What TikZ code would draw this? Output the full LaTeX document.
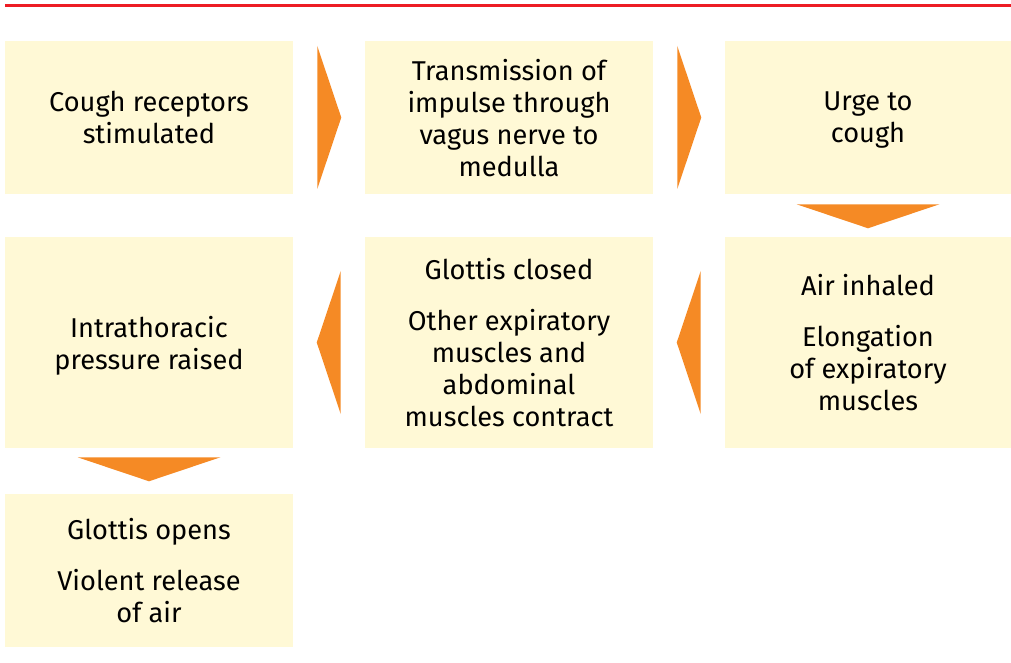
\documentclass[tikz,border=0pt]{standalone}
\usepackage{fontspec}
\setmainfont{Fira Sans}
\usepackage{tikz}
\usetikzlibrary{calc}
\definecolor{boxfill}{HTML}{FFF9D6}
\definecolor{arrorange}{HTML}{F58A25}
\definecolor{rulered}{HTML}{ED1C24}

\begin{document}
\begin{tikzpicture}[x=0.75pt, y=-0.75pt,
  box/.style={fill=boxfill, minimum width=216pt, minimum height=114.75pt,
    align=center, inner sep=0pt, text depth=0pt, font=\fontsize{20.4}{24}\selectfont},
  tallbox/.style={box, minimum height=158.25pt},
  arr/.style={fill=arrorange}]
\useasboundingbox (0,0) rectangle (1011,663);
\draw[rulered, line width=1.9pt] (5,5.3) -- (1011,5.3);

% Row 1
\node[box] (receptors) at (149,117.5) {Cough receptors\\stimulated};
\node[box] (vagus) at (509,117.5) {Transmission of\\impulse through\\vagus nerve to\\medulla};
\node[box, minimum width=214.5pt] (urge) at (868,117.5) {Urge to\\cough};

% Row 2
\node[tallbox] (pressure) at (149,342.5) {Intrathoracic\\pressure raised};
\node[tallbox] (closed) at (509,342.5) {Glottis closed\\[14pt]Other expiratory\\muscles and\\abdominal\\muscles contract};
\node[tallbox, minimum width=214.5pt] (inhaled) at (868,342.5) {Air inhaled\\[14pt]Elongation\\of expiratory\\muscles};

% Row 3
\node[box] (opens) at (149,570.5) {Glottis opens\\[14pt]Violent release\\of air};

% Arrows
\fill[arr] ($(receptors.east)+(24,-71.5)$) -- ($(receptors.east)+(48,0)$) -- ($(receptors.east)+(24,71.5)$) -- cycle;
\fill[arr] ($(vagus.east)+(24,-71.5)$) -- ($(vagus.east)+(48,0)$) -- ($(vagus.east)+(24,71.5)$) -- cycle;
\fill[arr] ($(urge.south)+(-71.5,10)$) -- ($(urge.south)+(71.5,10)$) -- ($(urge.south)+(0,34)$) -- cycle;
\fill[arr] ($(inhaled.west)+(-24,-71.5)$) -- ($(inhaled.west)+(-48,0)$) -- ($(inhaled.west)+(-24,71.5)$) -- cycle;
\fill[arr] ($(closed.west)+(-24,-71.5)$) -- ($(closed.west)+(-48,0)$) -- ($(closed.west)+(-24,71.5)$) -- cycle;
\fill[arr] ($(pressure.south)+(-71.5,9)$) -- ($(pressure.south)+(71.5,9)$) -- ($(pressure.south)+(0,33)$) -- cycle;
\end{tikzpicture}
\end{document}
